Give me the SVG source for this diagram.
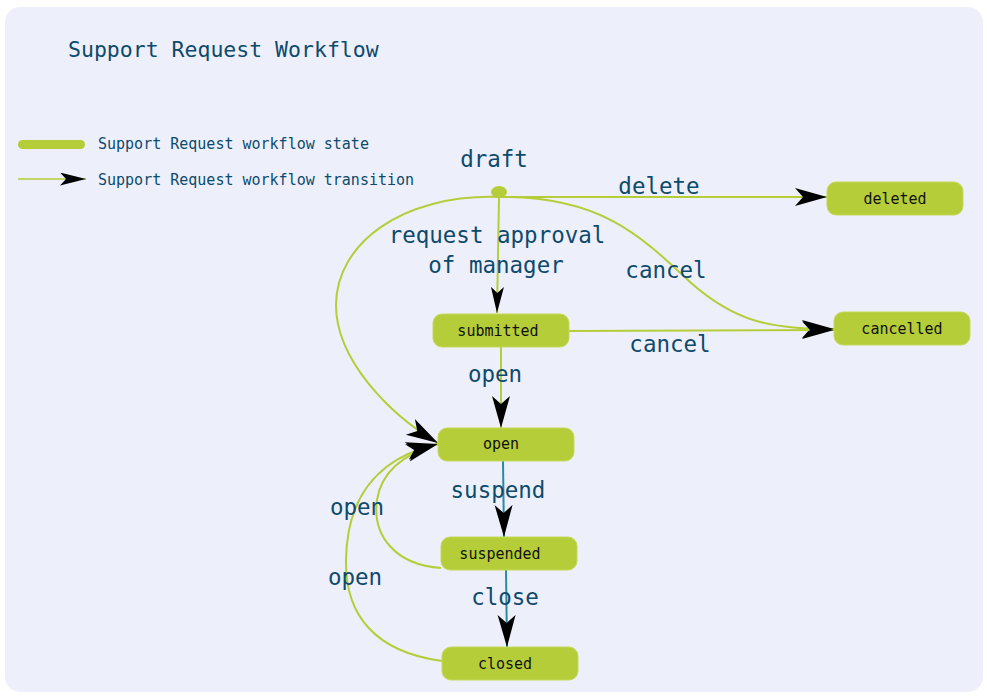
<svg xmlns="http://www.w3.org/2000/svg" width="987" height="698" viewBox="0 0 987 698">
<style>
.bg{fill:#edf0fb}
.node rect{fill:#b5cd38;stroke:#c4d85a;stroke-width:1}
.node text{font-family:"DejaVu Sans Mono","Liberation Mono",monospace;font-size:15px;fill:#111;text-anchor:middle}
.lbl{font-family:"DejaVu Sans Mono","Liberation Mono",monospace;font-size:22.5px;fill:#0e4a6c;text-anchor:middle}
.leg{font-family:"DejaVu Sans Mono","Liberation Mono",monospace;font-size:15px;fill:#0e4a6c}
.e{fill:none;stroke:#b5cd38;stroke-width:2}
.t{fill:none;stroke:#2a8aa2;stroke-width:2}
</style>
<defs>
<marker id="ah" markerUnits="userSpaceOnUse" markerWidth="34" markerHeight="20" refX="32" refY="9" orient="auto" viewBox="0 0 34 20">
<path d="M0,0 L32,9 L0,18 L8,9 Z" fill="#000"/>
</marker>
<marker id="ahs" markerUnits="userSpaceOnUse" markerWidth="28" markerHeight="14" refX="26" refY="6.5" orient="auto" viewBox="0 0 28 14">
<path d="M0,0 L26,6.5 L0,13 L6,6.5 Z" fill="#000"/>
</marker>
</defs>
<rect class="bg" x="5" y="7" width="978" height="685" rx="15"/>
<text x="68" y="57" style="font-family:'DejaVu Sans Mono','Liberation Mono',monospace;font-size:21.5px;fill:#0e4a6c">Support Request Workflow</text>
<g id="legend">
<rect x="18" y="140" width="67" height="9" rx="4.5" fill="#b5cd38"/>
<text class="leg" x="98" y="149">Support Request workflow state</text>
<line x1="18" y1="179" x2="86" y2="179" stroke="#b5cd38" stroke-width="1.5" marker-end="url(#ahs)"/>
<text class="leg" x="98" y="185">Support Request workflow transition</text>
</g>
<g id="connectors">
<path class="e" d="M499,197 L827,197" marker-end="url(#ah)"/>
<path class="e" d="M499,197 L497,313" marker-end="url(#ahs)"/>
<path class="e" d="M499,197 C600,196 640,235 690,282 C735,322 770,329 834,329" marker-end="url(#ah)"/>
<path class="e" d="M499,197 C400,194 336,245 336,305 C336,360 390,415 438,443" marker-end="url(#ah)"/>
<path class="e" d="M569,331 L834,330" marker-end="url(#ah)"/>
<path class="e" d="M501,347 L501,428" marker-end="url(#ah)"/>
<path class="t" d="M503,461 L504,537" marker-end="url(#ah)"/>
<path class="t" d="M506,570 L507,647" marker-end="url(#ah)"/>
<path class="e" d="M441,568 C395,565 372,535 377,500 C382,468 410,452 438,444" marker-end="url(#ah)"/>
<path class="e" d="M442,661 C375,652 345,615 346,560 C347,490 385,456 438,444" marker-end="url(#ah)"/>
<text class="lbl" x="659" y="194">delete</text>
<text class="lbl" x="497" y="243">request approval</text>
<text class="lbl" x="496" y="273">of manager</text>
<text class="lbl" x="666" y="278">cancel</text>
<text class="lbl" x="670" y="352">cancel</text>
<text class="lbl" x="495" y="382">open</text>
<text class="lbl" x="498" y="498">suspend</text>
<text class="lbl" x="357" y="515">open</text>
<text class="lbl" x="355" y="585">open</text>
<text class="lbl" x="505" y="605">close</text>
</g>
<g id="draft">
<ellipse cx="499" cy="192" rx="8" ry="6" fill="#b5cd38"/>
<text class="lbl" x="494" y="167">draft</text>
</g>
<g id="deleted" class="node"><rect x="827" y="182" width="136" height="33" rx="9"/><text x="895" y="204">deleted</text></g>
<g id="cancelled" class="node"><rect x="834" y="312" width="136" height="33" rx="9"/><text x="902" y="334">cancelled</text></g>
<g id="submitted" class="node"><rect x="433" y="314" width="136" height="33" rx="9"/><text x="498" y="336">submitted</text></g>
<g id="open" class="node"><rect x="438" y="428" width="136" height="33" rx="9"/><text x="501" y="449">open</text></g>
<g id="suspended" class="node"><rect x="441" y="537" width="136" height="33" rx="9"/><text x="500" y="559">suspended</text></g>
<g id="closed" class="node"><rect x="442" y="647" width="136" height="33" rx="9"/><text x="505" y="669">closed</text></g>
</svg>
